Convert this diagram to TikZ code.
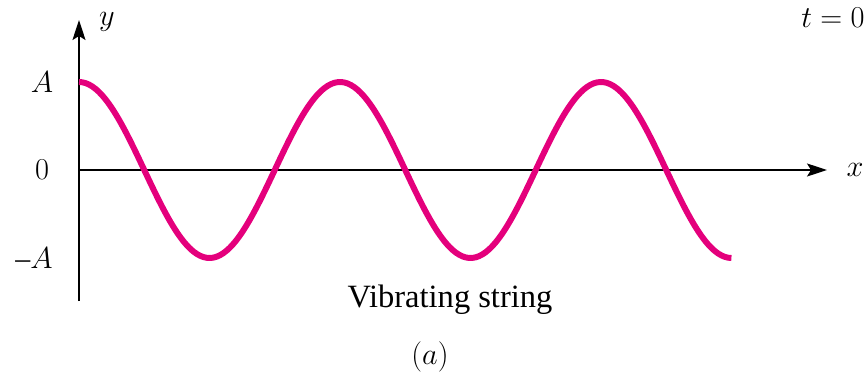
\documentclass[tikz,border=0pt]{standalone}
\usepackage{amsmath, amssymb}
\usepackage{fontspec}
\setmainfont{Liberation Serif}
\usetikzlibrary{arrows.meta}
\definecolor{stringpink}{RGB}{228,0,124}
\tikzset{
	axis/.style={line width=0.85pt, -{Stealth[length=0.4cm, width=0.26cm, inset=0.08cm]}},
	lbl/.style={inner sep=0pt, font=\fontsize{17}{20}\selectfont},
	wave/.style={stringpink, line width=3.4pt}
}

\begin{document}
\begin{tikzpicture}
	\useasboundingbox (-1.58, -4.22) rectangle (15.78, 3.40);
	% Axes:
	\coordinate (O) at (0, 0);
	\coordinate (ybot) at (0, -2.62);
	\coordinate (ytop) at (0, 3.0);
	\coordinate (xend) at (14.96, 0);
	\draw[axis] (ybot) -- (ytop);
	\draw[axis] (O) -- (xend);
	% Wave:
	\draw[wave, domain=0:13.05, samples=200, smooth] plot (\x, {1.76*cos(360*\x/5.22)});
	% Labels:
	\node[lbl] (ylab) at (0.56, 2.96){$y$};
	\node[lbl] (xlab) at (15.52, 0){$x$};
	\node[lbl, anchor=east] (tlab) at (15.72, 3.04){$t = 0$};
	\node[lbl] (Alab) at (-0.74, 1.76){$A$};
	\node[lbl] (zlab) at (-0.74, 0){$0$};
	\node[lbl, anchor=east] (mAlab) at (-0.52, -1.76){–$A$};
	\node[lbl, font=\fontsize{18.5}{22}\selectfont] (cap) at (7.42, -2.6){Vibrating string};
	\node[lbl] (sub) at (7.02, -3.74){$(a)$};
\end{tikzpicture}
\end{document}
